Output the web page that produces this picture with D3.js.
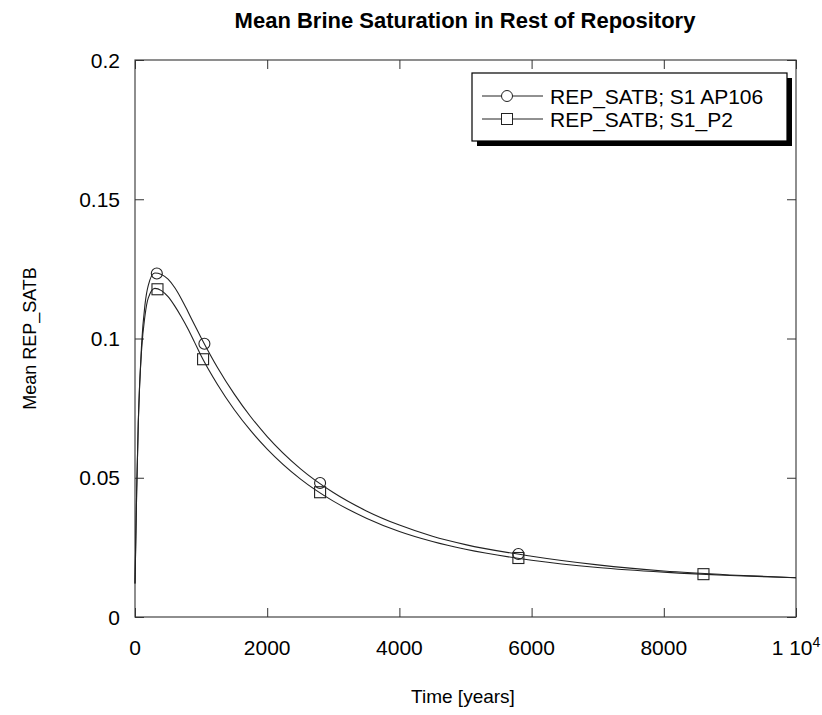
<!DOCTYPE html>
<html>
<head>
<meta charset="utf-8">
<script src="https://cdn.jsdelivr.net/npm/d3@7"></script>
<style>
  body { margin: 0; background: #fff; }
  svg { display: block; font-family: Arial, "Liberation Sans", sans-serif; }
  .axis path, .axis line { stroke: #333; }
</style>
</head>
<body>
<svg id="chart"></svg>
<script>

// data
const times = [0, 25, 50, 100, 150, 200, 300, 400, 500, 600, 700, 800, 900, 1000, 1250, 1500, 1750, 2000, 2500, 3000, 3500, 4000, 4500, 5000, 6000, 7000, 8000, 9000, 10000];
const satbAP106 = [0.012, 0.045, 0.07, 0.098, 0.112, 0.119, 0.1235, 0.1230, 0.1213, 0.1183, 0.1143, 0.1097, 0.1049, 0.1003, 0.0895, 0.0801, 0.0719, 0.0648, 0.0533, 0.0447, 0.0381, 0.0330, 0.0290, 0.0260, 0.0218, 0.0187, 0.0165, 0.0151, 0.0141];
const satbP2    = [0.012, 0.045, 0.07, 0.096, 0.108, 0.1145, 0.118, 0.1172, 0.1150, 0.1117, 0.1078, 0.1035, 0.0987, 0.0938, 0.0834, 0.0745, 0.0669, 0.0603, 0.0496, 0.0416, 0.0355, 0.0307, 0.0271, 0.0243, 0.0204, 0.0178, 0.0161, 0.0149, 0.0141];

// marker positions along each curve
const markTimesAP106 = [330, 1050, 2800, 5800];
const markTimesP2 = [340, 1030, 2800, 5800, 8600];

const xTicks = [0, 2000, 4000, 6000, 8000, 10000];
const yTicks = [0, 0.05, 0.1, 0.15, 0.2];
const yTickLabels = ["0", "0.05", "0.1", "0.15", "0.2"];

const seriesNames = ["REP_SATB; S1 AP106", "REP_SATB; S1_P2"];

const W = 822, H = 715;
const margin = {top: 60, right: 26, bottom: 98, left: 135},
	width = W - margin.left - margin.right,
	height = H - margin.top - margin.bottom;

const svg = d3.select("#chart")
	.attr("width", W)
	.attr("height", H);

const g = svg.append("g")
	.attr("transform", "translate(" + margin.left + "," + margin.top + ")");

const xScale = d3.scaleLinear().domain([0, 10000]).range([0, width]),
	yScale = d3.scaleLinear().domain([0, 0.2]).range([height, 0]);

// frame
g.append("rect")
	.attr("width", width)
	.attr("height", height)
	.attr("fill", "none")
	.attr("stroke", "#444")
	.attr("stroke-width", 1.2);

// inward ticks on all four sides
g.append("g").attr("class", "axis")
	.attr("transform", "translate(0," + height + ")")
	.call(d3.axisBottom(xScale).tickValues(xTicks).tickSize(-9).tickFormat(""))
	.call(s => s.select(".domain").remove());
g.append("g").attr("class", "axis")
	.call(d3.axisTop(xScale).tickValues(xTicks).tickSize(-9).tickFormat(""))
	.call(s => s.select(".domain").remove());
g.append("g").attr("class", "axis")
	.call(d3.axisLeft(yScale).tickValues(yTicks).tickSize(-9).tickFormat(""))
	.call(s => s.select(".domain").remove());
g.append("g").attr("class", "axis")
	.attr("transform", "translate(" + width + ",0)")
	.call(d3.axisRight(yScale).tickValues(yTicks).tickSize(-9).tickFormat(""))
	.call(s => s.select(".domain").remove());

// tick labels
g.selectAll("text.ylab")
	.data(yTicks).enter()
	.append("text")
	.attr("class", "ylab")
	.attr("x", -15)
	.attr("y", d => yScale(d))
	.attr("dy", "0.36em")
	.attr("text-anchor", "end")
	.attr("font-size", "21px")
	.text((d, i) => yTickLabels[i]);

const xl = g.selectAll("text.xlab")
	.data(xTicks).enter()
	.append("text")
	.attr("class", "xlab")
	.attr("x", d => xScale(d))
	.attr("y", height + 38)
	.attr("text-anchor", "middle")
	.attr("font-size", "21px");
xl.each(function(d) {
	const t = d3.select(this);
	if (d === 10000) {
		t.append("tspan").text("1 10");
		t.append("tspan").attr("dy", "-0.55em").attr("font-size", "14px").text("4");
	} else {
		t.text(d);
	}
});

// lines
const line = d3.line()
	.x(d => xScale(d[0]))
	.y(d => yScale(d[1]))
	.curve(d3.curveMonotoneX);

const dataAP106 = times.map((t, i) => [t, satbAP106[i]]);
const dataP2 = times.map((t, i) => [t, satbP2[i]]);

[dataAP106, dataP2].forEach(dat => {
	g.append("path")
		.datum(dat)
		.attr("d", line)
		.attr("fill", "none")
		.attr("stroke", "#222")
		.attr("stroke-width", 1.1);
});

// markers sit on the curve, value looked up from the series
const fAP = d3.scaleLinear().domain(times).range(satbAP106),
	fP2 = d3.scaleLinear().domain(times).range(satbP2);

g.selectAll("circle.mk")
	.data(markTimesAP106).enter()
	.append("circle")
	.attr("class", "mk")
	.attr("cx", d => xScale(d))
	.attr("cy", d => yScale(fAP(d)))
	.attr("r", 5.5)
	.attr("fill", "none")
	.attr("stroke", "#222")
	.attr("stroke-width", 1.1);

g.selectAll("rect.mk")
	.data(markTimesP2).enter()
	.append("rect")
	.attr("class", "mk")
	.attr("x", d => xScale(d) - 5.5)
	.attr("y", d => yScale(fP2(d)) - 5.5)
	.attr("width", 11)
	.attr("height", 11)
	.attr("fill", "none")
	.attr("stroke", "#222")
	.attr("stroke-width", 1.1);

// legend with drop shadow
const legend = svg.append("g")
	.attr("transform", "translate(472,73)");
legend.append("rect")
	.attr("x", 5).attr("y", 5)
	.attr("width", 315).attr("height", 68)
	.attr("fill", "#000");
legend.append("rect")
	.attr("width", 315).attr("height", 68)
	.attr("fill", "#fff")
	.attr("stroke", "#000")
	.attr("stroke-width", 1.2);

seriesNames.forEach((name, i) => {
	const yy = 23 + i * 23;
	legend.append("line")
		.attr("x1", 10).attr("x2", 71)
		.attr("y1", yy).attr("y2", yy)
		.attr("stroke", "#222");
	if (i === 0) {
		legend.append("circle")
			.attr("cx", 35).attr("cy", yy).attr("r", 5.5)
			.attr("fill", "#fff").attr("stroke", "#222");
	} else {
		legend.append("rect")
			.attr("x", 29.5).attr("y", yy - 5.5)
			.attr("width", 11).attr("height", 11)
			.attr("fill", "#fff").attr("stroke", "#222");
	}
	legend.append("text")
		.attr("x", 78).attr("y", yy)
		.attr("dy", "0.36em")
		.attr("font-size", "21px")
		.text(name);
});

// title and axis labels
svg.append("text")
	.attr("x", 465).attr("y", 28)
	.attr("text-anchor", "middle")
	.attr("font-size", "22px")
	.attr("font-weight", "bold")
	.text("Mean Brine Saturation in Rest of Repository");

svg.append("text")
	.attr("x", 463).attr("y", 703)
	.attr("text-anchor", "middle")
	.attr("font-size", "19px")
	.text("Time [years]");

svg.append("text")
	.attr("transform", "translate(36," + (margin.top + height / 2) + ") rotate(-90)")
	.attr("text-anchor", "middle")
	.attr("font-size", "18px")
	.text("Mean REP_SATB");

</script>
</body>
</html>
